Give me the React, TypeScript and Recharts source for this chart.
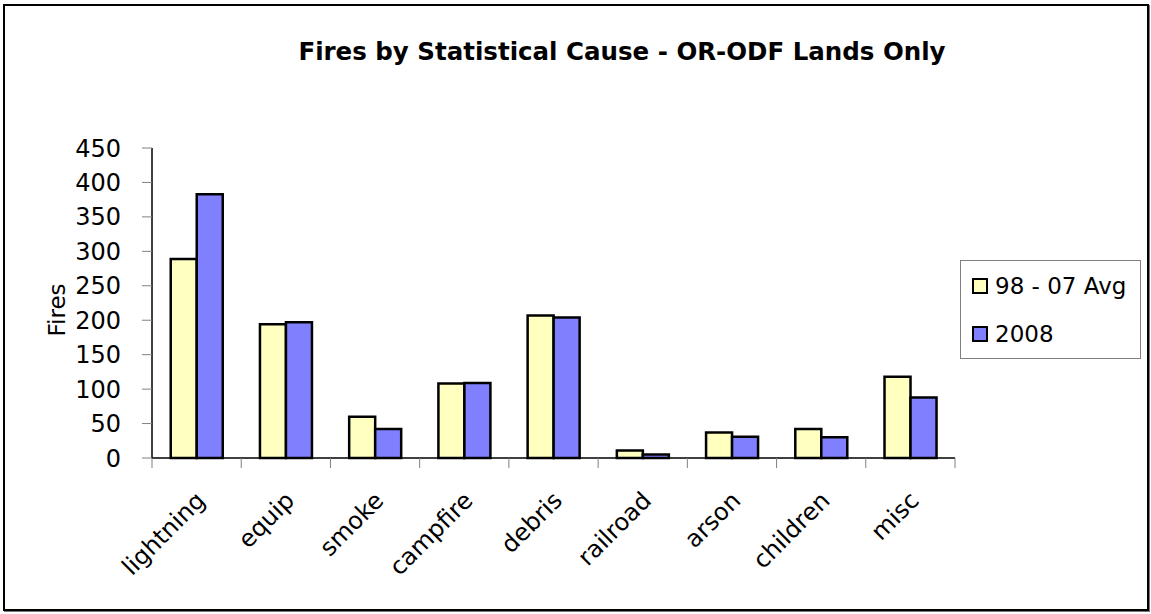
import React from 'react';
import { BarChart, Bar, XAxis, YAxis, Customized } from 'recharts';

const categories = ['lightning', 'equip', 'smoke', 'campfire', 'debris', 'railroad', 'arson', 'children', 'misc'];
const avg9807 = [289, 194, 60, 108, 207, 11, 37, 42, 118];
const y2008 = [383, 197, 42, 109, 204, 5, 31, 30, 88];
const yTicks = [0, 50, 100, 150, 200, 250, 300, 350, 400, 450];
const seriesNames = ['98 - 07 Avg', '2008'];
const seriesColors = ['#FFFFC0', '#8080FF'];

const data = categories.map((c, i) => ({ cat: c, avg: avg9807[i], y2008: y2008[i] }));

const FONT = '"DejaVu Sans", sans-serif';

const XTick = (props: any) => {
  const { x, y, payload, index } = props;
  const off = payload && payload.offset != null ? payload.offset : 44.6;
  const left = x - off;
  const tx = x + 10;
  const ty = y + 36;
  return (
    <g>
      <line x1={left} y1={y - 8} x2={left} y2={y + 2} stroke="#808080" strokeWidth={1} />
      {index === categories.length - 1 && (
        <line x1={x + off} y1={y - 8} x2={x + off} y2={y + 2} stroke="#808080" strokeWidth={1} />
      )}
      <text
        x={tx}
        y={ty}
        transform={`rotate(-45, ${tx}, ${ty})`}
        textAnchor="end"
        fontSize={24}
        fontFamily={FONT}
        fill="#000"
      >
        {payload.value}
      </text>
    </g>
  );
};

const LegendBox = () => (
  <div
    style={{
      position: 'absolute',
      left: 960,
      top: 260,
      border: '1px solid #808080',
      width: 181,
      height: 99,
      boxSizing: 'border-box',
      background: '#fff',
      fontFamily: FONT,
      fontSize: 23,
      paddingTop: 1,
    }}
  >
    {seriesNames.map((name, i) => (
      <div key={name} style={{ display: 'flex', alignItems: 'center', height: 48, paddingLeft: 11 }}>
        <span
          style={{
            display: 'inline-block',
            width: 12,
            height: 12,
            background: seriesColors[i],
            border: '2px solid #000',
            marginRight: 7,
          }}
        />
        <span style={{ lineHeight: 1 }}>{name}</span>
      </div>
    ))}
  </div>
);

const Extras = () => (
  <g>
    <text
      x={622}
      y={60}
      textAnchor="middle"
      fontSize={24.5}
      fontWeight="bold"
      fontFamily={FONT}
      fill="#000"
    >
      Fires by Statistical Cause - OR-ODF Lands Only
    </text>
    <text
      x={65}
      y={310}
      transform="rotate(-90, 65, 310)"
      textAnchor="middle"
      fontSize={23}
      fontFamily={FONT}
      fill="#000"
    >
      Fires
    </text>
  </g>
);

export default function App() {
  return (
    <div style={{ position: 'absolute', left: 0, top: 0, width: 1151, height: 614, background: '#fff' }}>
      <div
        style={{
          position: 'absolute',
          left: 3,
          top: 4,
          width: 1146,
          height: 607,
          border: '2px solid #000',
          boxShadow: '1px 1px 0 #777',
          boxSizing: 'border-box',
        }}
      />
      <div style={{ position: 'absolute', left: 0, top: 0 }}>
        <BarChart
          width={1151}
          height={614}
          data={data}
          margin={{ top: 148, right: 196, bottom: 16, left: 72 }}
          barCategoryGap="21%"
          barGap={0}
        >
          <XAxis
            dataKey="cat"
            height={140}
            tickLine={false}
            axisLine={{ stroke: '#000', strokeWidth: 1.5 }}
            tick={<XTick />}
            interval={0}
          />
          <YAxis
            width={80}
            domain={[0, 450]}
            ticks={yTicks}
            interval={0}
            tickSize={10}
            tickMargin={21}
            tickLine={{ stroke: '#808080' }}
            axisLine={{ stroke: '#000', strokeWidth: 1.5 }}
            tick={{ fontSize: 24, fontFamily: FONT, fill: '#000' }}
          />
          <Bar dataKey="avg" name={seriesNames[0]} fill={seriesColors[0]} stroke="#000" strokeWidth={2.5} isAnimationActive={false} />
          <Bar dataKey="y2008" name={seriesNames[1]} fill={seriesColors[1]} stroke="#000" strokeWidth={2.5} isAnimationActive={false} />
          <Customized component={<Extras />} />
        </BarChart>
      </div>
      <LegendBox />
    </div>
  );
}
